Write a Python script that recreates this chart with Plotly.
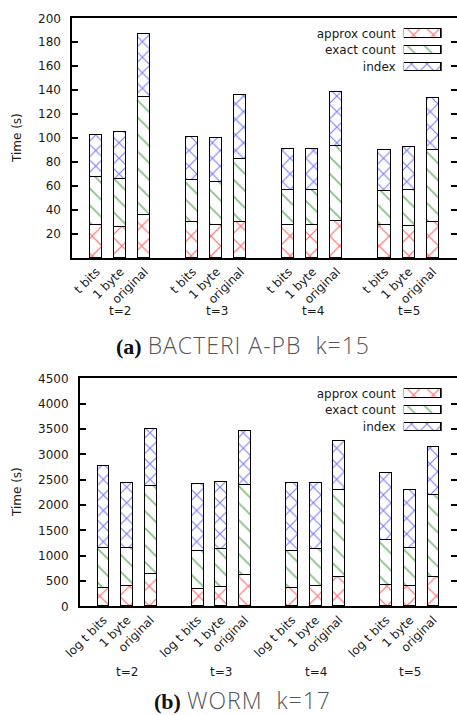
import plotly.graph_objects as go

# ---------------- data ----------------
groups = ["t=2", "t=3", "t=4", "t=5"]
variants_a = ["t bits", "1 byte", "original"]
variants_b = ["log t bits", "1 byte", "original"]
series = ["approx count", "exact count", "index"]

# (a) BACTERIA-PB k=15, seconds, order: group-major, variant-minor
a_approx = [27, 26, 36, 30, 27.5, 30, 27, 27, 31, 27, 26.5, 30]
a_exact = [40, 39.5, 98.5, 35, 35.5, 52.5, 29.5, 29.5, 62.5, 28.5, 30, 59.5]
a_index = [35, 39.5, 52.5, 36, 36.5, 53, 34, 34.5, 45, 34.5, 36, 44]

# (b) WORM k=17
b_approx = [350, 390, 625, 345, 380, 615, 350, 390, 580, 415, 400, 565]
b_exact = [790, 745, 1745, 735, 745, 1775, 730, 735, 1705, 885, 735, 1635]
b_index = [1615, 1290, 1115, 1330, 1325, 1070, 1340, 1305, 980, 1320, 1145, 935]

a_yticks = [20, 40, 60, 80, 100, 120, 140, 160, 180, 200]
b_yticks = [0, 500, 1000, 1500, 2000, 2500, 3000, 3500, 4000, 4500]

# ---------------- styling ----------------
W, H = 457, 715
FONT = "DejaVu Sans, Liberation Sans, sans-serif"
TXT = "#1a1a1a"
patterns = {
    "approx count": dict(shape="x", fgcolor="#ff0000", bgcolor="white", size=14, solidity=0.17),
    "exact count": dict(shape="\\", fgcolor="#1a8a1a", bgcolor="white", size=12, solidity=0.16),
    "index": dict(shape="x", fgcolor="#0000ff", bgcolor="white", size=11, solidity=0.2),
}


def positions(n_groups, n_var):
    return [g * (n_var + 1) + i + 1 for g in range(n_groups) for i in range(n_var)]


fig = go.Figure()

panels = [
    dict(vals=[a_approx, a_exact, a_index], variants=variants_a, xa="x", ya="y"),
    dict(vals=[b_approx, b_exact, b_index], variants=variants_b, xa="x2", ya="y2"),
]

for p in panels:
    xs = positions(len(groups), len(p["variants"]))
    for name, v in zip(series, p["vals"]):
        fig.add_trace(go.Bar(
            x=xs, y=v, name=name, width=0.5,
            marker=dict(color="white", line=dict(color="black", width=1.5),
                        pattern=patterns[name]),
            xaxis=p["xa"], yaxis=p["ya"], showlegend=False,
        ))

# legend samples drawn as small horizontal bars on auxiliary axes
legend_len = [1, 1, 1]
for xa, ya in [("x3", "y3"), ("x4", "y4")]:
    for name, ln in zip(series, legend_len):
        fig.add_trace(go.Bar(
            x=[ln], y=[name], orientation="h", width=0.5,
            marker=dict(color="white", line=dict(color="black", width=1.5),
                        pattern=patterns[name]),
            xaxis=xa, yaxis=ya, showlegend=False, hoverinfo="skip",
        ))


def px_x(px):
    return px / W


def px_y(py):
    return 1 - py / H


xs_a = positions(len(groups), len(variants_a))
xs_b = positions(len(groups), len(variants_b))
xrange_max = len(groups) * (len(variants_a) + 1)

common_x = dict(range=[0, xrange_max], showline=True, linecolor="black", linewidth=2,
                mirror=True, ticks="", tickangle=-45, showgrid=False, zeroline=False,
                automargin=False, tickfont=dict(family=FONT, size=12, color=TXT))
top_ticks = dict(range=[0, xrange_max], side="top", showline=False, ticks="inside",
                 ticklen=6, tickcolor="black", tickwidth=1.5, showticklabels=False,
                 showgrid=False, zeroline=False, automargin=False)
common_y = dict(showline=True, linecolor="black", linewidth=2, mirror="allticks",
                ticks="inside", ticklen=6, tickcolor="black", tickwidth=1.5,
                showgrid=False, zeroline=False, ticklabelstandoff=7, automargin=False,
                tickfont=dict(family=FONT, size=12, color=TXT))

leg_x = dict(range=[0, 1], showgrid=False, zeroline=False, showline=False,
             showticklabels=False, fixedrange=True, automargin=False)
leg_y = dict(type="category", categoryarray=series, range=[2.5, -0.5],
             showgrid=False, zeroline=False, showline=False, ticks="", automargin=False,
             ticklabelstandoff=7, tickfont=dict(family=FONT, size=12, color=TXT))

fig.update_layout(
    width=W, height=H, margin=dict(l=0, r=0, t=0, b=0, pad=0),
    paper_bgcolor="white", plot_bgcolor="white", barmode="stack", bargap=0,
    xaxis=dict(common_x, domain=[px_x(72.4), 1], anchor="y",
               tickvals=xs_a, ticktext=variants_a * len(groups)),
    yaxis=dict(common_y, domain=[px_y(258), px_y(18.3)], anchor="x",
               range=[0, 200], tickvals=a_yticks),
    xaxis2=dict(common_x, domain=[px_x(80), 1], anchor="y2",
                tickvals=xs_b, ticktext=variants_b * len(groups)),
    yaxis2=dict(common_y, domain=[px_y(606.3), px_y(378.3)], anchor="x2",
                range=[0, 4500], tickvals=b_yticks),
    xaxis3=dict(leg_x, domain=[px_x(403.7), px_x(441.7)], anchor="y3"),
    yaxis3=dict(leg_y, domain=[px_y(75), px_y(25)], anchor="x3"),
    xaxis4=dict(leg_x, domain=[px_x(403.7), px_x(441.7)], anchor="y4"),
    yaxis4=dict(leg_y, domain=[px_y(435), px_y(385)], anchor="x4"),
    xaxis5=dict(top_ticks, overlaying="x", anchor="y", tickvals=xs_a),
    xaxis6=dict(top_ticks, overlaying="x2", anchor="y2", tickvals=xs_b),
)

ann = []
# y axis titles
for yc in [138, 492]:
    ann.append(dict(text="Time (s)", x=px_x(17), y=px_y(yc), xref="paper", yref="paper",
                    xanchor="center", yanchor="middle", textangle=-90, showarrow=False,
                    font=dict(family=FONT, size=12, color=TXT)))
# group labels
for xa, yc in [("x", 311), ("x2", 671.7)]:
    for g, lab in enumerate(groups):
        ann.append(dict(text=lab, x=g * (len(variants_a) + 1) + 2, y=px_y(yc),
                        xref=xa, yref="paper", xanchor="center", yanchor="middle",
                        showarrow=False, font=dict(family=FONT, size=12, color=TXT)))
# sub-captions
caps = [("(a)", "BACTERI A-PB  k=15", 345), ("(b)", "WORM  k=17", 700)]
for lab, name, yc in caps:
    ann.append(dict(
        text=("<span style='font-family:Liberation Serif;color:#111;font-weight:bold;font-size:22px'>"
              + lab + "</span> "
              "<span style='font-family:Open Sans;font-weight:300;color:#555;letter-spacing:1px'>"
              + name + "</span>"),
        x=px_x(243), y=px_y(yc), xref="paper", yref="paper",
        xanchor="center", yanchor="middle", showarrow=False,
        font=dict(family="Open Sans", size=23, color="#555")))
fig.update_layout(annotations=ann)

fig.write_html(
    "out.html",
    config={"displayModeBar": False},
    post_script="document.body.style.margin='0';document.body.style.overflow='hidden';",
)
